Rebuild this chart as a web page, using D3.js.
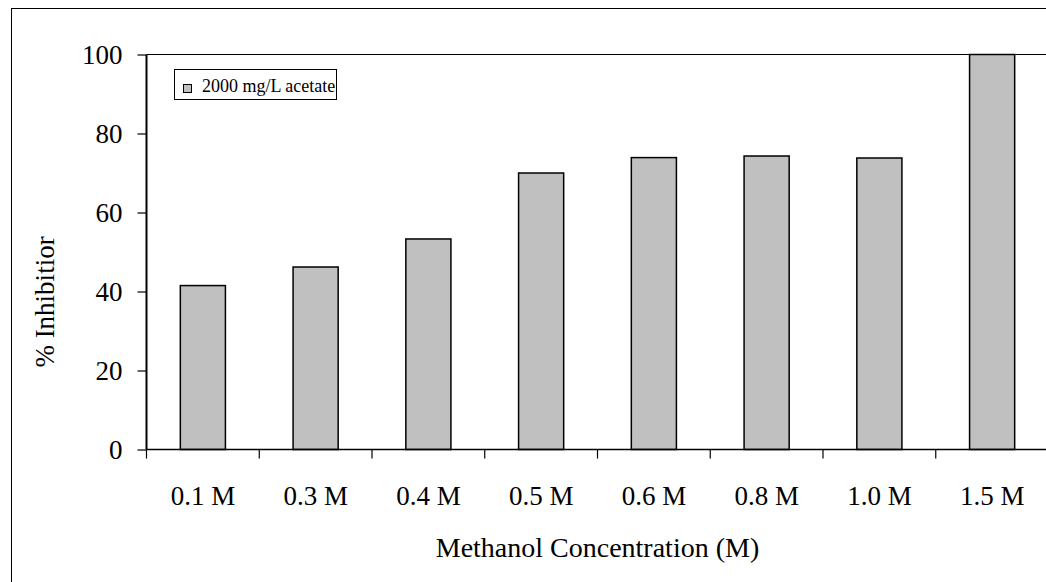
<!DOCTYPE html>
<html><head><meta charset="utf-8">
<script src="https://cdn.jsdelivr.net/npm/d3@7"></script>
<style>
html,body{margin:0;padding:0;background:#fff;}
svg{display:block;}
svg text{font-family:"Liberation Serif",serif;}
</style></head>
<body>
<svg id="c" width="1046" height="582"></svg>
<script>
const categories = ["0.1 M","0.3 M","0.4 M","0.5 M","0.6 M","0.8 M","1.0 M","1.5 M"];
const values = [41.5, 46.2, 53.3, 70.0, 73.9, 74.3, 73.8, 100];
const yTicks = [0, 20, 40, 60, 80, 100];
const seriesName = "2000 mg/L acetate";
const xTitle = "Methanol Concentration (M)";
const yTitle = "% Inhibitior";

const FONT = "Liberation Serif";
const svg = d3.select("#c");
const L = 146.5, R = 1048.5, T = 54.5, B = 449.5;

// outer border
svg.append("rect").attr("x",11.5).attr("y",8.5).attr("width",1100).attr("height",700)
  .attr("fill","none").attr("stroke","#000").attr("stroke-width",1);

const x = d3.scaleBand().domain(categories).range([L, R]).paddingInner(0.6).paddingOuter(0.3);
const xb = d3.scaleBand().domain(categories).range([L, R]);
const y = d3.scaleLinear().domain([0,100]).range([B, T]);

// plot area top line
svg.append("line").attr("x1",L).attr("x2",R).attr("y1",T).attr("y2",T)
  .attr("stroke","#000").attr("stroke-width",1);

// bars
svg.append("g").selectAll("rect").data(values).join("rect")
  .attr("x",(d,i)=>x(categories[i]))
  .attr("width",x.bandwidth())
  .attr("y",d=>y(d))
  .attr("height",d=>y(0)-y(d))
  .attr("fill","#c0c0c0").attr("stroke","#000").attr("stroke-width",1.5);

// y axis
const ya = svg.append("g").attr("transform",`translate(${L},0)`)
  .call(d3.axisLeft(y).tickValues(yTicks).tickSize(9).tickPadding(15).tickFormat(d3.format("d")));
ya.attr("font-family",FONT);
ya.select(".domain").attr("stroke","#000").attr("stroke-width",2).attr("d",`M0,${T}V${B}`);
ya.selectAll(".tick line").attr("stroke","#000").attr("stroke-width",1.2);
ya.selectAll(".tick text").attr("font-size",27).attr("font-family",FONT).attr("fill","#000").attr("dy","0.33em");

// x axis
const xa = svg.append("g").attr("transform",`translate(0,${B})`)
  .call(d3.axisBottom(xb).tickSize(0).tickPadding(0));
xa.attr("font-family",FONT);
xa.select(".domain").attr("stroke","#000").attr("stroke-width",1.5).attr("d",`M${L},0H${R}`);
xa.selectAll(".tick text").attr("font-size",27).attr("font-family",FONT).attr("fill","#000")
  .attr("y",55).attr("dy",0);
// category separator ticks
const bounds = categories.map(c=>xb(c)).concat([R]);
xa.append("g").selectAll("line").data(bounds).join("line")
  .attr("x1",d=>d).attr("x2",d=>d).attr("y1",0).attr("y2",9)
  .attr("stroke","#000").attr("stroke-width",1.2);

// axis titles
svg.append("text").attr("x",(L+R)/2).attr("y",557).attr("text-anchor","middle")
  .attr("font-family",FONT).attr("font-size",28).attr("fill","#000").text(xTitle);
svg.append("text").attr("transform",`translate(54,302) rotate(-90)`).attr("text-anchor","middle")
  .attr("font-family",FONT).attr("font-size",27).attr("fill","#000").text(yTitle);

// legend
const lg = svg.append("g");
lg.append("rect").attr("x",174.5).attr("y",69.5).attr("width",162).attr("height",30)
  .attr("fill","#fff").attr("stroke","#000").attr("stroke-width",1);
lg.append("rect").attr("x",183.5).attr("y",84.5).attr("width",8).attr("height",8)
  .attr("fill","#c0c0c0").attr("stroke","#000").attr("stroke-width",1);
lg.append("text").attr("x",202).attr("y",92).attr("font-family",FONT).attr("font-size",18).attr("fill","#000").text(seriesName);
</script>
</body></html>
